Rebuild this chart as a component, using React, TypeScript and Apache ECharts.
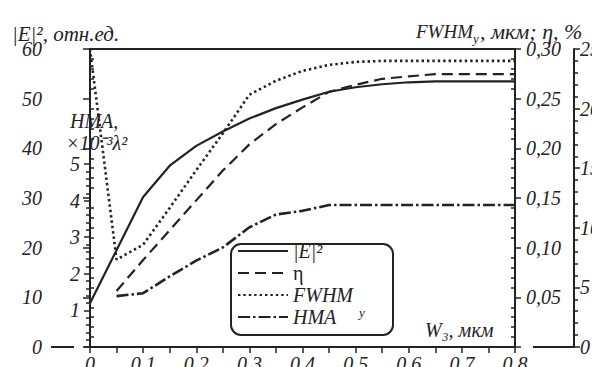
import React, { useEffect, useRef } from 'react';
import * as echarts from 'echarts';

// ---- data ----
const eX = [0, 0.1, 0.15, 0.2, 0.25, 0.3, 0.35, 0.4, 0.45, 0.5, 0.55, 0.6, 0.65, 0.7, 0.75, 0.8];
const eVals = [8.8, 30.2, 36.5, 40.5, 43.4, 46.0, 48.1, 49.8, 51.4, 52.3, 52.9, 53.3, 53.5, 53.5, 53.5, 53.5];

const etaX = [0.05, 0.1, 0.15, 0.2, 0.25, 0.3, 0.35, 0.4, 0.45, 0.5, 0.55, 0.6, 0.65, 0.7, 0.75, 0.8];
const etaVals = [4.7, 7.3, 9.8, 12.3, 14.8, 17.0, 18.7, 20.1, 21.4, 22.0, 22.5, 22.7, 22.9, 22.9, 22.9, 22.9];

const fwhmX = [0, 0.05, 0.1, 0.15, 0.2, 0.25, 0.3, 0.35, 0.4, 0.45, 0.5, 0.55, 0.6, 0.65, 0.7, 0.75, 0.8];
const fwhmVals = [0.3, 0.088, 0.103, 0.14, 0.178, 0.215, 0.254, 0.268, 0.278, 0.284, 0.287, 0.288, 0.288, 0.288, 0.288, 0.288, 0.288];

const hmaX = [0.05, 0.1, 0.15, 0.2, 0.25, 0.3, 0.35, 0.4, 0.45, 0.5, 0.55, 0.6, 0.65, 0.7, 0.75, 0.8];
const hmaVals = [1.39, 1.47, 1.93, 2.36, 2.72, 3.27, 3.62, 3.72, 3.88, 3.88, 3.88, 3.88, 3.88, 3.88, 3.88, 3.88];

const seriesNames = ['|E|²', 'η', 'FWHM', 'HMA'];

const FONT = 'Liberation Serif';
const CSS_FONT = "'Liberation Serif', 'Times New Roman', serif";
const INK = '#222';

const zip = (xs: number[], ys: number[]) => xs.map((x, i) => [x, ys[i]]);

function App() {
  const ref = useRef<HTMLDivElement>(null);

  useEffect(() => {
    if (!ref.current) return;
    const chart = echarts.init(ref.current, undefined, { renderer: 'svg' });

    const axisLine = { show: true, lineStyle: { color: INK, width: 2 } };
    const tickLine = { color: INK, width: 1.5 };
    const lbl = (margin: number) => ({ fontFamily: FONT, fontStyle: 'italic', fontSize: 20, color: INK, margin });
    const txt = (x: number, y: number, text: string, size = 20, extra: any = {}) => ({
      type: 'text',
      x,
      y,
      style: {
        text,
        fontFamily: FONT,
        fontStyle: 'italic',
        fontSize: size,
        fill: INK,
        verticalAlign: 'middle',
        textVerticalAlign: 'middle',
        ...extra,
      },
    });

    const option: any = {
      animation: false,
      backgroundColor: '#fff',
      textStyle: { fontFamily: FONT },
      grid: [
        { left: 82, right: 93, top: 41, bottom: 28 },
        { left: 82, right: 93, top: 156, bottom: 28 },
      ],
      xAxis: [
        {
          gridIndex: 0,
          type: 'value',
          min: 0,
          max: 0.8,
          interval: 0.1,
          axisLine,
          axisTick: { show: true, length: 6, lineStyle: tickLine },
          minorTick: { show: true, splitNumber: 2, length: 6, lineStyle: tickLine },
          splitLine: { show: false },
          axisLabel: lbl(7),
        },
        { gridIndex: 1, type: 'value', min: 0, max: 0.8, show: false },
      ],
      yAxis: [
        {
          gridIndex: 0,
          type: 'value',
          position: 'left',
          offset: 39,
          min: 0,
          max: 60,
          interval: 10,
          axisLine,
          axisTick: { show: true, length: 7, lineStyle: tickLine },
          minorTick: { show: true, splitNumber: 5, length: -4, lineStyle: tickLine },
          splitLine: { show: false },
          axisLabel: lbl(9),
        },
        {
          gridIndex: 0,
          type: 'value',
          position: 'right',
          offset: 0,
          min: 0,
          max: 0.3,
          interval: 0.05,
          axisLine,
          axisTick: { show: true, length: 6, lineStyle: tickLine },
          minorTick: { show: true, splitNumber: 5, length: -4, lineStyle: tickLine },
          splitLine: { show: false },
          axisLabel: {
            ...lbl(11),
            formatter: (v: number) => (v === 0 ? '' : v.toFixed(2).replace('.', ',')),
          },
        },
        {
          gridIndex: 0,
          type: 'value',
          position: 'right',
          offset: 59,
          min: 0,
          max: 25,
          interval: 5,
          axisLine,
          axisTick: { show: true, length: 6, lineStyle: tickLine },
          minorTick: { show: true, splitNumber: 5, length: 4, lineStyle: tickLine },
          splitLine: { show: false },
          axisLabel: lbl(6),
        },
        {
          gridIndex: 1,
          type: 'value',
          position: 'left',
          offset: 0,
          min: 0,
          max: 5,
          interval: 1,
          axisLine,
          axisTick: { show: true, length: 6, lineStyle: tickLine },
          minorTick: { show: true, splitNumber: 5, length: 4, lineStyle: tickLine },
          splitLine: { show: false },
          axisLabel: { ...lbl(10), showMinLabel: false },
        },
      ],
      legend: {
        show: true,
        orient: 'vertical',
        left: 229,
        top: 233,
        itemWidth: 50,
        itemHeight: 14,
        itemGap: 2,
        padding: 0,
        itemStyle: { opacity: 0 },
        data: seriesNames.map((n) => ({
          name: n,
          textStyle: { fontFamily: FONT, fontStyle: n === 'η' ? 'normal' : 'italic', fontSize: 20, color: INK },
        })),
        textStyle: { fontFamily: FONT, fontStyle: 'italic', fontSize: 20, color: INK },
      },
      series: [
        {
          name: seriesNames[0],
          type: 'line',
          xAxisIndex: 0,
          yAxisIndex: 0,
          data: zip(eX, eVals),
          symbol: 'none',
          lineStyle: { color: INK, width: 2.2, type: 'solid' },
          itemStyle: { color: INK },
        },
        {
          name: seriesNames[1],
          type: 'line',
          xAxisIndex: 0,
          yAxisIndex: 2,
          data: zip(etaX, etaVals),
          symbol: 'none',
          lineStyle: { color: INK, width: 2.2, type: [11, 6] },
          itemStyle: { color: INK },
        },
        {
          name: seriesNames[2],
          type: 'line',
          xAxisIndex: 0,
          yAxisIndex: 1,
          data: zip(fwhmX, fwhmVals),
          symbol: 'none',
          lineStyle: { color: INK, width: 2.6, type: [2.4, 3] },
          itemStyle: { color: INK },
        },
        {
          name: seriesNames[3],
          type: 'line',
          xAxisIndex: 1,
          yAxisIndex: 3,
          data: zip(hmaX, hmaVals),
          symbol: 'none',
          lineStyle: { color: INK, width: 2.6, type: [12, 3, 2.5, 3] },
          itemStyle: { color: INK },
        },
      ],
      graphic: [
        { type: 'line', shape: { x1: 81, y1: 41, x2: 508, y2: 41 }, style: { stroke: INK, lineWidth: 2 } },
        { type: 'line', shape: { x1: 82, y1: 41, x2: 82, y2: 100 }, style: { stroke: INK, lineWidth: 2 } },
        { type: 'line', shape: { x1: 82, y1: 148, x2: 82, y2: 157 }, style: { stroke: INK, lineWidth: 2 } },
        { type: 'line', shape: { x1: 43, y1: 339, x2: 66, y2: 339 }, style: { stroke: INK, lineWidth: 2 } },
        { type: 'line', shape: { x1: 525, y1: 339, x2: 566, y2: 339 }, style: { stroke: INK, lineWidth: 2 } },
        {
          type: 'rect',
          shape: { x: 223, y: 236, width: 162, height: 91, r: 10 },
          style: { fill: 'none', stroke: INK, lineWidth: 2 },
          z: 10,
        },
        // legend subscript for FWHM_y
        txt(351, 304, 'y', 13),
        // axis titles
        txt(4, 26, '|E|², отн.ед.', 21),
        txt(408, 23, 'FWHM', 19),
        txt(465, 30, 'y', 13),
        txt(472, 23, ', мкм; η, %', 22),
        txt(417, 322, 'W₃, мкм', 20),
        txt(62, 113, 'HMA,', 20),
        txt(58, 135, '×10⁻³λ²', 20),
      ],
    };

    const fixFonts = () => {
      const root = ref.current;
      if (!root) return;
      root.querySelectorAll('text').forEach((t: any) => {
        if (t.style) t.style.fontFamily = CSS_FONT;
      });
    };

    chart.on('finished', fixFonts);
    chart.setOption(option);
    fixFonts();
    const raf = requestAnimationFrame(fixFonts);
    const t1 = setTimeout(fixFonts, 50);
    const t2 = setTimeout(fixFonts, 300);

    return () => {
      cancelAnimationFrame(raf);
      clearTimeout(t1);
      clearTimeout(t2);
      chart.dispose();
    };
  }, []);

  return <div ref={ref} style={{ width: 600, height: 367 }} />;
}

export default App;
